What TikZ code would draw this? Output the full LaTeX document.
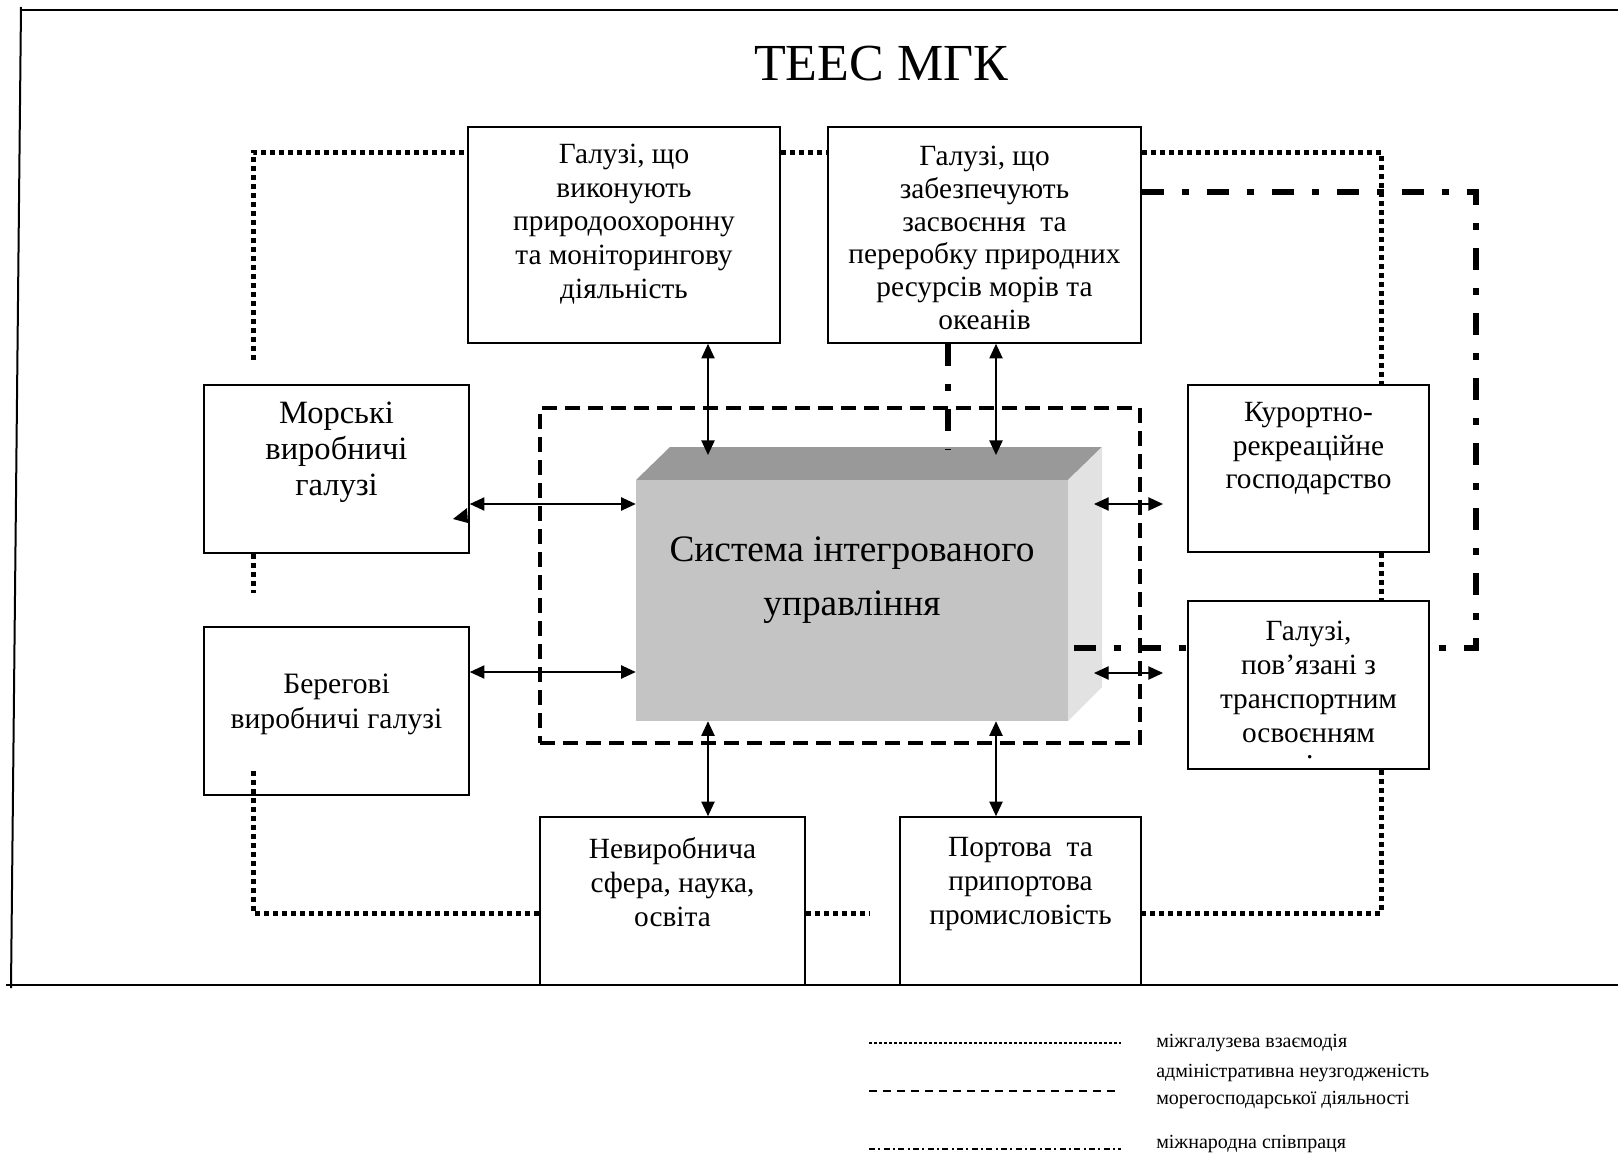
\documentclass[tikz,border=0pt]{standalone}
\usepackage{fontspec}
\setmainfont{Liberation Serif}
\usetikzlibrary{arrows.meta,fit,calc}
\definecolor{front3d}{RGB}{196,196,196}
\definecolor{top3d}{RGB}{153,153,153}
\definecolor{side3d}{RGB}{226,226,226}
\begin{document}
\begin{tikzpicture}[x=0.75pt,y=-0.75pt,
  box/.style={draw, line width=1.2pt, fill=white, inner sep=0pt},
  btxt/.style={anchor=north, align=center, inner sep=0pt, font=\fontsize{22}{25.2}\selectfont},
  dotline/.style={line width=3.75pt, dash pattern=on 3.75pt off 3pt},
  dashline/.style={line width=3pt, dash pattern=on 11.25pt off 6pt},
  ddline/.style={line width=4.5pt, dash pattern=on 16.5pt off 13.5pt on 5.25pt off 13.5pt},
  arr/.style={line width=1pt, >={Triangle[length=11pt,width=10pt]}, <->},
  frameline/.style={line width=1.5pt},
  legdot/.style={line width=2pt, dash pattern=on 2pt off 1.75pt},
  legdash/.style={line width=1.1pt, dash pattern=on 6pt off 4.5pt},
  legdd/.style={line width=1.1pt, dash pattern=on 4.5pt off 2.5pt on 1.5pt off 2.5pt},
  legtxt/.style={anchor=base west, inner sep=0pt, font=\fontsize{15}{19.5}\selectfont},
]
\useasboundingbox (0,0) rectangle (1618,1153);

% outer frame
\coordinate (f1) at (21,7);
\coordinate (f2) at (11,988);
\coordinate (f3) at (21,10);
\coordinate (f4) at (1620,10);
\coordinate (f5) at (6,985);
\coordinate (f6) at (1620,985);
\draw[frameline] (f1) -- (f2);
\draw[frameline] (f3) -- (f4);
\draw[frameline] (f5) -- (f6);

% title
\node[anchor=north, inner sep=0pt, font=\fontsize{39}{45}\selectfont] (title) at (881,46) {ТЕЕС МГК};

% dashed rectangle
\node[draw, dashline, inner sep=0pt, fit={(540,408)(1140,743)}] (R) {};

% 3D box
\fill[top3d] (636,480) -- (670,447) -- (1102,447) -- (1068,480) -- cycle;
\fill[side3d] (1068,480) -- (1102,447) -- (1102,687) -- (1068,721) -- cycle;
\node[fill=front3d, inner sep=0pt, fit={(636,480)(1068,721)}] (S) {};
\node[anchor=north, align=center, inner sep=0pt, font=\fontsize{28}{40.5}\selectfont] (St) at (852,537) {Система інтегрованого\\управління};

% boxes (nodes defined first for references)
\node[box, fit={(468,127)(780,343)}] (A) {};
\node[box, fit={(828,127)(1141,343)}] (B) {};

% dash-dot lines (international cooperation)
\coordinate (q1) at (1476,192);
\coordinate (q2) at (1476,648);
\coordinate (q3) at (948,450);
\draw[ddline] (q1 -| B.east) -- (q1) -- (q2) -- (q2 -| S.east);
\draw[ddline] (q3 |- B.south) -- (q3);

\node[box, fit={(204,385)(469,553)}] (C) {};
\node[box, fit={(204,627)(469,795)}] (D) {};
\node[box, fit={(1188,385)(1429,552)}] (E) {};
\node[box, fit={(1188,601)(1429,769)}] (F) {};
\node[box, fit={(540,817)(805,985)}] (G) {};
\node[box, fit={(900,817)(1141,985)}] (H) {};

% box texts
\node[btxt] (At) at (624,144) {Галузі, що\\виконують\\природоохоронну\\та моніторингову\\діяльність};
\node[btxt, font=\fontsize{22}{24.5}\selectfont] (Bt) at (984.5,146) {Галузі, що\\забезпечують\\засвоєння\ \ та\\переробку природних\\ресурсів морів та\\океанів};
\node[btxt, font=\fontsize{24.4}{27}\selectfont] (Ct) at (336.5,402) {Морські\\виробничі\\галузі};
\node[btxt, font=\fontsize{22.2}{26}\selectfont] (Dt) at (336.5,674) {Берегові\\виробничі галузі};
\node[btxt] (Et) at (1308.5,402) {Курортно-\\рекреаційне\\господарство};
\node[btxt, font=\fontsize{22}{25.5}\selectfont] (Ft) at (1308.5,621) {Галузі,\\пов’язані з\\транспортним\\освоєнням\\[-13.5pt]\hspace*{2pt}.};
\node[btxt, font=\fontsize{22}{25.5}\selectfont] (Gt) at (672.5,837) {Невиробнича\\сфера, наука,\\освіта};
\node[btxt, font=\fontsize{22}{25.5}\selectfont] (Ht) at (1020.5,837) {Портова\ \ та\\припортова\\промисловість};

% dotted lines (inter-branch interaction)
\coordinate (p1) at (253,360);
\coordinate (p2) at (253,152);
\coordinate (p3) at (1381,152);
\coordinate (p4) at (1381,913);
\coordinate (p5) at (253,913);
\coordinate (p6) at (870,913);
\coordinate (p7) at (253,768);
\coordinate (p8) at (253,593);
\draw[dotline] (p1) -- (p2) -- (p2 -| A.west);
\draw[dotline] (p2 -| A.east) -- (p2 -| B.west);
\draw[dotline] (p2 -| B.east) -- (p3) -- (p3 |- E.north);
\draw[dotline] (p3 |- E.south) -- (p3 |- F.north);
\draw[dotline] (p3 |- F.south) -- (p4) -- (p4 -| H.east);
\draw[dotline] (p4 -| G.east) -- (p6);
\draw[dotline] (p5 -| G.west) -- (p5) -- (p7);
\draw[dotline] (p8 |- C.south) -- (p8);

% arrows
\coordinate (t1) at (708,455);
\coordinate (t2) at (996,455);
\coordinate (l1) at (0,504);
\coordinate (l2) at (0,672);
\coordinate (r1) at (1094,504);
\coordinate (r1e) at (1163,504);
\coordinate (r2) at (1094,673);
\coordinate (r2e) at (1163,673);
\draw[arr] (t1 |- A.south) -- (t1);
\draw[arr] (t2 |- B.south) -- (t2);
\draw[arr] (t1 |- S.south) -- (t1 |- G.north);
\draw[arr] (t2 |- S.south) -- (t2 |- H.north);
\draw[arr] (l1 -| C.east) -- (l1 -| S.west);
\draw[arr] (l2 -| D.east) -- (l2 -| S.west);
\draw[arr] (r1) -- (r1e);
\draw[arr] (r2) -- (r2e);
\fill (453,519) -- (467,508) -- (468,523) -- cycle;

% legend
\coordinate (lg1a) at (869,1043);
\coordinate (lg1b) at (1121,1043);
\coordinate (lg2a) at (869,1091);
\coordinate (lg2b) at (1121,1091);
\coordinate (lg3a) at (869,1149);
\coordinate (lg3b) at (1121,1149);
\draw[legdot] (lg1a) -- (lg1b);
\draw[legdash] (lg2a) -- (lg2b);
\draw[legdd] (lg3a) -- (lg3b);
\node[legtxt] (L1) at (1156,1047) {міжгалузева взаємодія};
\node[legtxt] (L2) at (1156,1077) {адміністративна неузгодженість};
\node[legtxt] (L3) at (1156,1104) {морегосподарської діяльності};
\node[legtxt] (L4) at (1156,1148) {міжнародна співпраця};
\end{tikzpicture}
\end{document}
